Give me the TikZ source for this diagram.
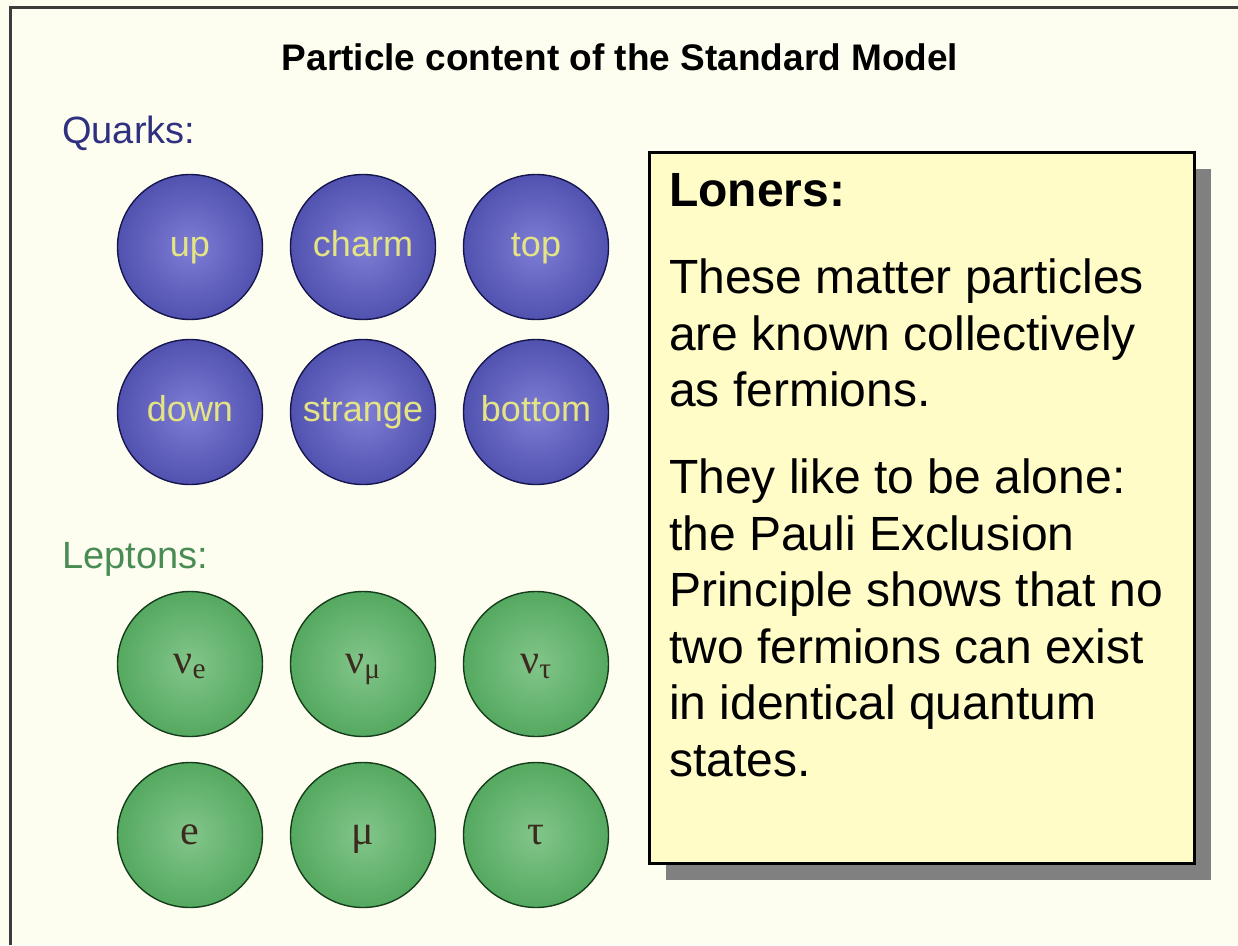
\documentclass[tikz,border=0pt]{standalone}
\usepackage{fontspec}
\setmainfont{Liberation Sans}
\newfontfamily\greekfont{Liberation Serif}
\usepackage{xcolor}
\usetikzlibrary{shadows}

\definecolor{paper}{RGB}{254,254,240}
\definecolor{frameline}{RGB}{60,60,60}
\definecolor{quarkdark}{RGB}{40,40,140}
\definecolor{quarklight}{RGB}{126,126,214}
\definecolor{quarkedge}{RGB}{22,22,78}
\definecolor{quarktext}{RGB}{228,228,132}
\definecolor{quarkhead}{RGB}{48,48,128}
\definecolor{leptondark}{RGB}{44,142,58}
\definecolor{leptonlight}{RGB}{130,198,138}
\definecolor{leptonedge}{RGB}{22,60,26}
\definecolor{leptontext}{RGB}{60,42,30}
\definecolor{leptonhead}{RGB}{72,140,84}
\definecolor{notefill}{RGB}{255,252,200}
\definecolor{noteshadow}{RGB}{128,128,128}

\pgfdeclareradialshading{quarkball}{\pgfpoint{0bp}{0bp}}{color(0bp)=(quarklight); color(48bp)=(quarkdark); color(50bp)=(quarkdark)}
\pgfdeclareradialshading{leptonball}{\pgfpoint{0bp}{0bp}}{color(0bp)=(leptonlight); color(48bp)=(leptondark); color(50bp)=(leptondark)}

\begin{document}
\begin{tikzpicture}[x=1pt, y=-1pt,
    ball/.style={circle, minimum size=145pt, inner sep=0pt, line width=1.4pt, text height=26pt, text depth=7pt},
    quark/.style={ball, draw=quarkedge, shade, shading=quarkball, text=quarktext, font=\fontsize{36}{40}\selectfont},
    lepton/.style={ball, draw=leptonedge, shade, shading=leptonball, text=leptontext, font=\greekfont\fontsize{42}{44}\selectfont},
    heading/.style={anchor=base west, inner sep=0pt, font=\fontsize{38}{42}\selectfont},
    notebox/.style={draw=black, line width=2.5pt, fill=notefill, anchor=north west, inner sep=0pt,
        drop shadow={shadow xshift=17pt, shadow yshift=-17pt, fill=noteshadow, opacity=1}},
    notetext/.style={anchor=base west, inner sep=0pt, font=\fontsize{48}{56}\selectfont}]
    \useasboundingbox (0,0) rectangle (1238,945);
    \fill[paper] (0,0) rectangle (1238,945);
    \draw[frameline, line width=3pt] (10,945) -- (10,7) -- (1238,7);
    \node[anchor=base, inner sep=0pt, font=\bfseries\fontsize{37}{44}\selectfont] (title) at (620,70) {Particle content of the Standard Model};

    % quarks
    \node[heading, text=quarkhead] (quarks) at (62,143) {Quarks:};
    \foreach \name [count=\i] in {up, charm, top} {
        \node[quark] (q\name) at ({190+173*(\i-1)}, 247) {\name};
    }
    \foreach \name [count=\i] in {down, strange, bottom} {
        \node[quark] (q\name) at ({190+173*(\i-1)}, 412) {\name};
    }

    % leptons
    \node[heading, text=leptonhead] (leptons) at (62,568) {Leptons:};
    \node[lepton] (nue) at (190,664) {ν\textsubscript{e}};
    \node[lepton] (numu) at (363,664) {ν\textsubscript{μ}};
    \node[lepton] (nutau) at (536,664) {ν\textsubscript{τ}};
    \node[lepton] (elec) at (190,835) {e};
    \node[lepton] (muon) at (363,835) {μ};
    \node[lepton] (tau) at (536,835) {τ};

    % note
    \node[notebox, minimum width=545pt, minimum height=711pt] (note) at (648,151) {};
    \node[notetext, font=\bfseries\fontsize{48}{56}\selectfont] (loners) at (669,206) {Loners:};
    \foreach \yy/\txt [count=\i] in {293/These matter particles, 350/are known collectively, 406/as fermions.,
        493/They like to be alone:, 550/the Pauli Exclusion, 606/Principle shows that no,
        663/two fermions can exist, 719/in identical quantum, 776/states.} {
        \node[notetext] (line\i) at (669,\yy) {\txt};
    }
\end{tikzpicture}
\end{document}
